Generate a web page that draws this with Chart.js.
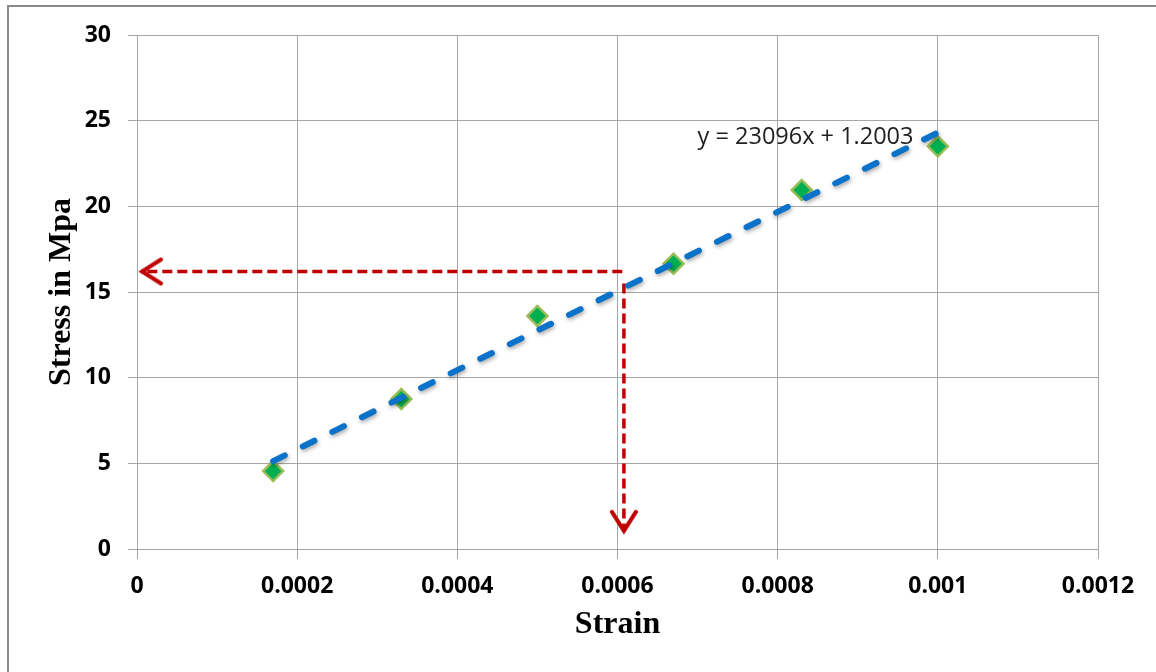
<!DOCTYPE html>
<html>
<head>
<meta charset="utf-8">
<title>Stress vs Strain</title>
<script src="https://cdn.jsdelivr.net/npm/chart.js@4.4.0/dist/chart.umd.min.js"></script>
<style>
  body { margin: 0; background: #fff; }
  #wrap { position: relative; width: 1156px; height: 672px; overflow: hidden; }
  #frame { position: absolute; left: 7px; top: 5px; width: 1200px; height: 700px;
           border-top: 2px solid #8a8a8a; border-left: 2px solid #8a8a8a; }
  canvas { position: absolute; left: 0; top: 0; }
</style>
</head>
<body>
<div id="wrap">
  <div id="frame"></div>
  <canvas id="myChart" width="1156" height="672"></canvas>
</div>
<script>
'use strict';

// test points
let strain = [0.00017, 0.00033, 0.0005, 0.00067, 0.00083, 0.001];
let stress = [4.55, 8.75, 13.6, 16.65, 20.95, 23.5];

// linear trendline, ends
let trendStrain = [0.00017, 0.001];
let trendStress = [5.13, 24.3];
let trendLabel = 'y = 23096x + 1.2003';
let trendLabelAt = [0.0007, 24.05];

// red reading arrows
let acrossStrain = [0.000606, 0.000005];
let acrossStress = [16.2, 16.2];
let downStrain = [0.000608, 0.000608];
let downStress = [15.5, 1.0];

let xTickLabels = ['0', '0.0002', '0.0004', '0.0006', '0.0008', '0.001', '0.0012'];
let yTickLabels = ['0', '5', '10', '15', '20', '25', '30'];

function toPoints(xs, ys) {
  let pts = [];
  for (let i = 0; i < xs.length; i++) {
    pts.push({ x: xs[i], y: ys[i] });
  }
  return pts;
}

// open arrow head, tip in the middle of the canvas, arms to the right
function makeChevron() {
  let c = document.createElement('canvas');
  c.width = 50;
  c.height = 50;
  let g = c.getContext('2d');
  g.strokeStyle = '#C00000';
  g.lineWidth = 4;
  g.lineCap = 'round';
  g.beginPath();
  g.moveTo(25 + 20, 25 - 12);
  g.lineTo(25 + 1, 25);
  g.lineTo(25 + 20, 25 + 12);
  g.stroke();
  return c;
}
let chevron = makeChevron();

let gridColor = '#a6a6a6';
let tickFont = { family: 'Open Sans', size: 23, weight: 'bold' };
let titleFont = { family: 'Liberation Serif', size: 32, weight: 'bold' };

// soft shadow under the blue trendline
let trendShadow = {
  id: 'trendShadow',
  beforeDatasetDraw(chart, args) {
    if (args.index === 0) {
      chart.ctx.save();
      chart.ctx.shadowColor = 'rgba(0,0,0,0.35)';
      chart.ctx.shadowBlur = 4;
      chart.ctx.shadowOffsetX = 1;
      chart.ctx.shadowOffsetY = 2;
    }
  },
  afterDatasetDraw(chart, args) {
    if (args.index === 0) {
      chart.ctx.restore();
    }
  }
};

let trendText = {
  id: 'trendText',
  afterDatasetsDraw(chart) {
    let ctx = chart.ctx;
    ctx.save();
    ctx.font = '23.5px "Open Sans"';
    ctx.fillStyle = '#222';
    ctx.textAlign = 'left';
    ctx.textBaseline = 'middle';
    ctx.fillText(trendLabel,
      chart.scales.x.getPixelForValue(trendLabelAt[0]),
      chart.scales.y.getPixelForValue(trendLabelAt[1]));
    ctx.restore();
  }
};

const ctx = document.getElementById('myChart');

new Chart(ctx, {
  type: 'scatter',
  data: {
    datasets: [
      {
        label: 'Trend',
        data: toPoints(trendStrain, trendStress),
        showLine: true,
        borderColor: '#0A72C8',
        borderWidth: 6,
        borderDash: [13, 20],
        borderCapStyle: 'round',
        pointRadius: 0,
      },
      {
        label: 'Across',
        data: toPoints(acrossStrain, acrossStress),
        showLine: true,
        borderColor: '#C00000',
        borderWidth: 3.5,
        borderDash: [10, 5],
        pointStyle: chevron,
        pointRadius: [0, 1],
        pointRotation: 0,
      },
      {
        label: 'Down',
        data: toPoints(downStrain, downStress),
        showLine: true,
        borderColor: '#C00000',
        borderWidth: 3.5,
        borderDash: [10, 5],
        pointStyle: chevron,
        pointRadius: [0, 1],
        pointRotation: -90,
      },
      {
        label: 'Stress',
        data: toPoints(strain, stress),
        pointStyle: 'rectRot',
        pointRadius: 10,
        backgroundColor: '#00B050',
        borderColor: '#9BBB59',
        borderWidth: 2.5,
      },
    ],
  },
  options: {
    responsive: false,
    animation: false,
    events: [],
    layout: {
      padding: { left: 39, top: 35, right: 58, bottom: 24 },
    },
    plugins: {
      legend: { display: false },
      tooltip: { enabled: false },
    },
    scales: {
      x: {
        type: 'linear',
        min: 0,
        max: 0.0012,
        afterFit(scale) { scale.height = 99; },
        ticks: {
          stepSize: 0.0002,
          color: '#000',
          font: tickFont,
          padding: 14,
          maxRotation: 0,
          callback: function (value, index) { return xTickLabels[index]; },
        },
        grid: { color: gridColor, lineWidth: 1, tickLength: 10 },
        border: { color: gridColor, width: 1 },
        title: {
          display: true,
          text: 'Strain',
          color: '#000',
          font: titleFont,
          padding: { top: 4, bottom: 4 },
        },
      },
      y: {
        type: 'linear',
        min: 0,
        max: 30,
        afterFit(scale) { scale.width = 98; },
        ticks: {
          stepSize: 5,
          color: '#000',
          font: tickFont,
          padding: 17,
          callback: function (value, index) { return yTickLabels[index]; },
        },
        grid: { color: gridColor, lineWidth: 1, tickLength: 9 },
        border: { color: gridColor, width: 1 },
        title: {
          display: true,
          text: 'Stress in Mpa',
          color: '#000',
          font: titleFont,
          padding: { top: 4, bottom: 4 },
        },
      },
    },
  },
  plugins: [trendShadow, trendText],
});
</script>
</body>
</html>
